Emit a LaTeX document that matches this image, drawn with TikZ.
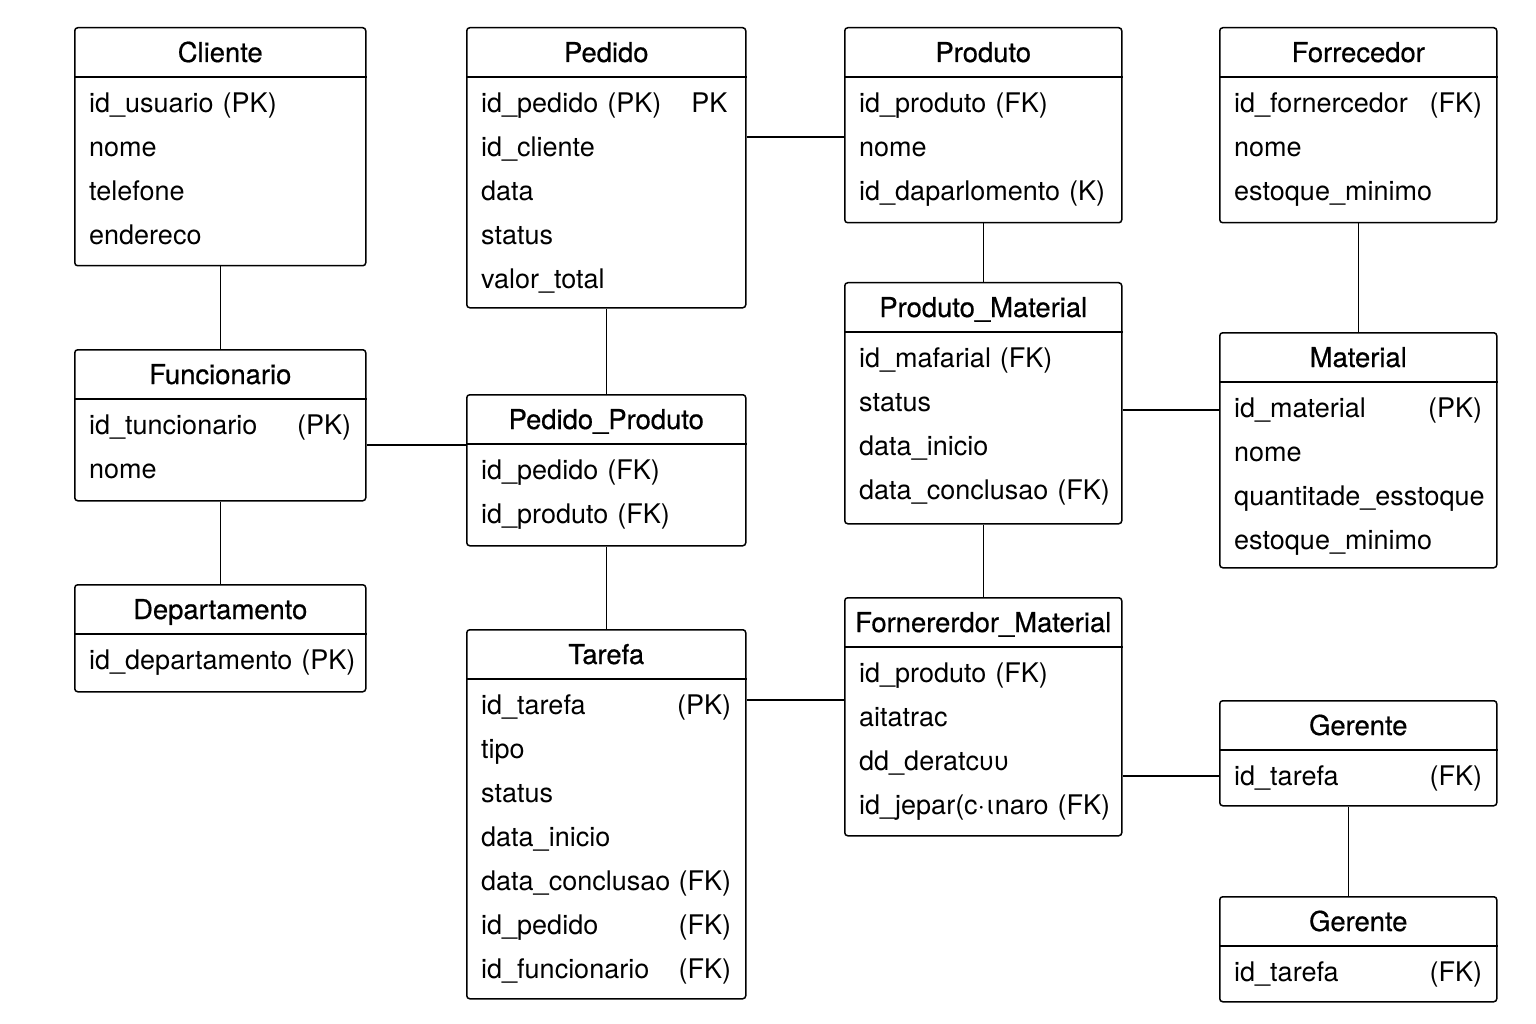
\documentclass[tikz,border=0pt]{standalone}
\usepackage{fontspec}
\setmainfont{TeX Gyre Heros}
\newfontfamily\titlefont{TeX Gyre Heros}[FakeBold=0.6]
\usetikzlibrary{positioning,calc}
% one table of the diagram: name, x, y, width, height, title, rows
\newcommand{\ertable}[7]{%
  \node[entity,minimum width=#4pt,minimum height=#5pt] (#1) at (#2,#3) {};
  \node[etitle] (#1-title) at ([yshift=-35pt]#1.north) {#6};
  \draw[line width=1.5pt] ([yshift=-50pt]#1.north west) -- ([yshift=-50pt]#1.north east);
  \node[erows=#4pt-29pt] (#1-rows) at ([xshift=15pt,yshift=-54.2pt]#1.north west) {\strut #7};
}

\begin{document}
\begin{tikzpicture}[x=1pt,y=-1pt,
  entity/.style={draw,line width=1.5pt,rounded corners=3pt,anchor=north west,inner sep=0pt},
  etitle/.style={anchor=base,inner sep=0pt,font=\titlefont\fontsize{27.4}{32}\selectfont},
  erows/.style={anchor=north west,inner sep=0pt,text width=#1,align=left,font=\fontsize{27}{44}\selectfont},
  link/.style={line width=1.2pt}]
  \useasboundingbox (0,0) rectangle (1536,1024);

  % left column
  \ertable{cliente}{74}{27}{291}{238}{Cliente}
    {id\_usuario (PK)\\nome\\telefone\\endereco}
  \ertable{funcionario}{74}{349}{291}{151}{Funcionario}
    {id\_tuncionario\hfill(PK)\\nome}
  \ertable{departamento}{74}{584}{291}{107}{Departamento}
    {\mbox{id\_departamento (PK)}}

  % second column
  \ertable{pedido}{466}{27}{279}{280}{Pedido}
    {id\_pedido (PK)\hspace{30pt}PK\\id\_cliente\\data\\status\\valor\_total}
  \ertable{pedprod}{466}{394}{279}{151}{Pedido\_Produto}
    {id\_pedido (FK)\\id\_produto (FK)}
  \ertable{tarefa}{466}{629}{279}{369}{Tarefa}
    {id\_tarefa\hfill(PK)\\tipo\\status\\data\_inicio\\data\_conclusao\hfill(FK)\\id\_pedido\hfill(FK)\\id\_funcionario\hfill(FK)}

  % third column
  \ertable{produto}{844}{27}{277}{195}{Produto}
    {id\_produto (FK)\\nome\\id\_daparlomento (K)}
  \ertable{prodmat}{844}{282}{277}{241}{Produto\_Material}
    {id\_mafarial (FK)\\status\\data\_inicio\\\mbox{data\_conclusao (FK)}}
  \ertable{fornmat}{844}{597}{277}{238}{Fornererdor\_Material}
    {id\_produto (FK)\\aitatrac\\dd\_deratcυυ\\\mbox{id\_jepar(c·ιnaro (FK)}}

  % right column
  \ertable{fornecedor}{1219}{27}{277}{195}{Forrecedor}
    {id\_fornercedor\hfill(FK)\\nome\\estoque\_minimo}
  \ertable{material}{1219}{332}{277}{235}{Material}
    {id\_material\hfill(PK)\\nome\\quantitade\_esstoque\\estoque\_minimo}
  \ertable{gerente}{1219}{700}{277}{105}{Gerente}
    {id\_tarefa\hfill(FK)}
  \ertable{gerenteb}{1219}{896}{277}{105}{Gerente}
    {id\_tarefa\hfill(FK)}

  % relations
  \draw[link] (cliente) -- (funcionario);
  \draw[link] (funcionario) -- (departamento);
  \draw[link] ([yshift=-96pt]funcionario.north east) -- ([yshift=-51pt]pedprod.north west);
  \draw[link] (pedido) -- (pedprod);
  \draw[link] (pedprod) -- (tarefa);
  \draw[link] ([yshift=-110pt]pedido.north east) -- ([yshift=-110pt]produto.north west);
  \draw[link] ([yshift=-71pt]tarefa.north east) -- ([yshift=-103pt]fornmat.north west);
  \draw[link] (produto) -- (prodmat);
  \draw[link] (prodmat) -- (fornmat);
  \draw[link] ([yshift=-128pt]prodmat.north east) -- ([yshift=-78pt]material.north west);
  \draw[link] (fornecedor) -- (material);
  \draw[link] ([yshift=-179pt]fornmat.north east) -- ([yshift=-76pt]gerente.north west);
  \draw[link] ([xshift=-10pt]gerente.south) -- ([xshift=-10pt]gerenteb.north);
\end{tikzpicture}
\end{document}
